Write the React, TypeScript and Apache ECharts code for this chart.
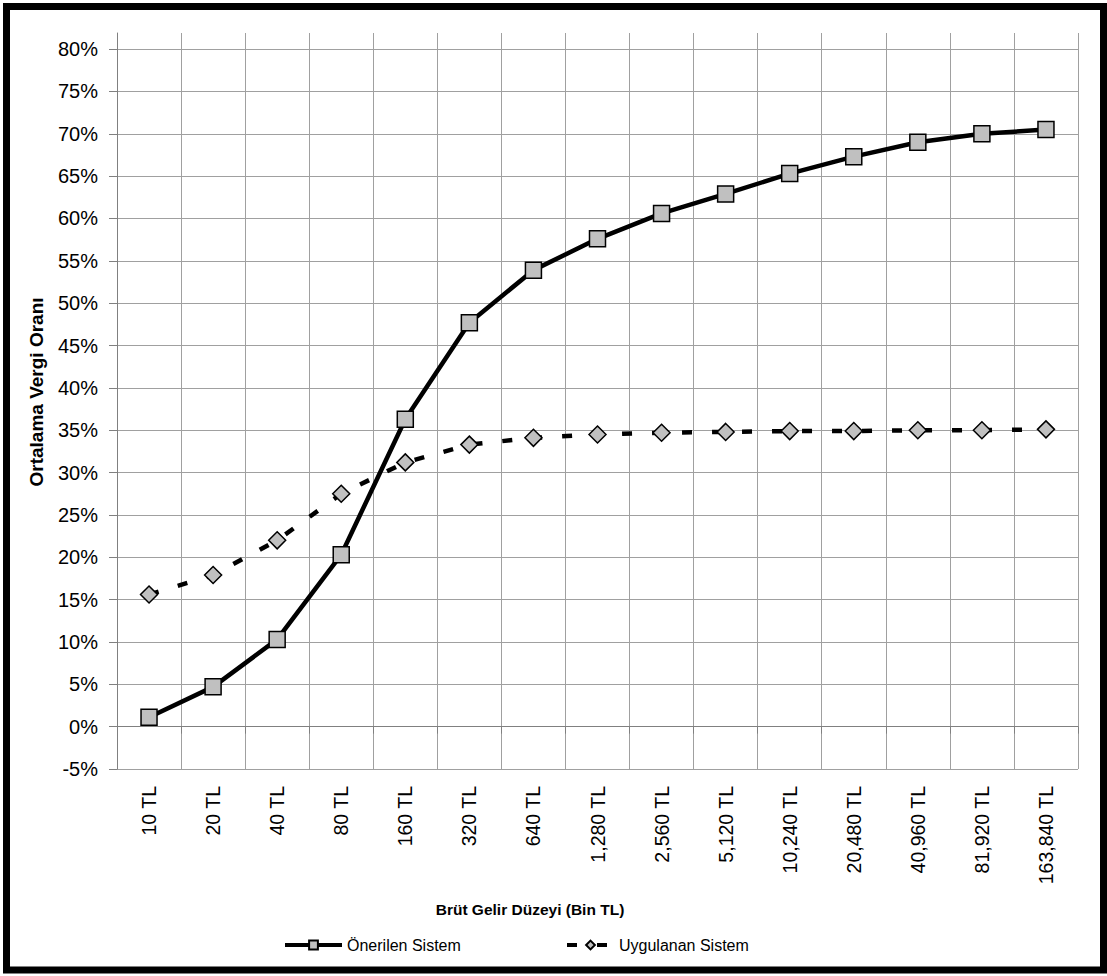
import React, { useEffect, useRef } from "react";
import * as echarts from "echarts";

const categories = [
  "10 TL", "20 TL", "40 TL", "80 TL", "160 TL", "320 TL", "640 TL", "1,280 TL",
  "2,560 TL", "5,120 TL", "10,240 TL", "20,480 TL", "40,960 TL", "81,920 TL", "163,840 TL",
];
const onerilen = [1.1, 4.7, 10.3, 20.3, 36.3, 47.7, 53.9, 57.6, 60.6, 62.9, 65.3, 67.3, 69.0, 70.0, 70.5];
const uygulanan = [15.6, 17.9, 22.0, 27.5, 31.2, 33.3, 34.1, 34.5, 34.7, 34.8, 34.9, 34.9, 35.0, 35.0, 35.1];
const yTicks = [-5, 0, 5, 10, 15, 20, 25, 30, 35, 40, 45, 50, 55, 60, 65, 70, 75, 80];

const seriesNames = ["Önerilen Sistem", "Uygulanan Sistem"];
const xTitle = "Brüt Gelir Düzeyi (Bin TL)";
const yTitle = "Ortalama Vergi Oranı";

const FONT = "'Liberation Sans', Arial, sans-serif";

export default function App() {
  const ref = useRef<HTMLDivElement>(null);
  useEffect(() => {
    if (!ref.current) return;
    const chart = echarts.init(ref.current, null, { renderer: "svg" });
    chart.setOption({
      animation: false,
      backgroundColor: "#fff",
      textStyle: { fontFamily: FONT, color: "#000" },
      grid: { left: 117, right: 29, top: 33, bottom: 207, containLabel: false },
      xAxis: {
        type: "category",
        data: categories,
        boundaryGap: true,
        axisLine: { lineStyle: { color: "#808080", width: 1 } },
        axisTick: { show: true, length: 7, lineStyle: { color: "#808080" } },
        axisLabel: { rotate: 90, margin: 17, fontSize: 19.5, color: "#000", fontFamily: FONT, interval: 0 },
        splitLine: { show: true, lineStyle: { color: "#a0a0a0", width: 1 } },
      },
      yAxis: {
        type: "value",
        min: -5,
        max: 81.9,
        interval: 5,
        axisLine: { show: true, lineStyle: { color: "#808080", width: 1 } },
        axisTick: { show: true, length: 8, inside: false, customValues: yTicks, lineStyle: { color: "#808080" } },
        axisLabel: {
          customValues: yTicks,
          margin: 19,
          fontSize: 20,
          color: "#000",
          fontFamily: FONT,
          formatter: (v: number) => `${v}%`,
        },
        splitLine: { show: true, lineStyle: { color: "#a0a0a0", width: 1 } },
      },
      legend: [
        {
          data: [seriesNames[0]],
          left: 278,
          top: 932,
          itemWidth: 57,
          itemHeight: 11,
          lineStyle: { width: 4 },
          textStyle: { fontSize: 16, color: "#000", fontFamily: FONT },
        },
        {
          data: [seriesNames[1]],
          left: 560,
          top: 932,
          itemWidth: 47,
          itemHeight: 11,
          lineStyle: { width: 4 },
          textStyle: { fontSize: 16, color: "#000", fontFamily: FONT },
        },
      ],
      graphic: [
        {
          type: "text",
          x: 530,
          y: 909,
          style: {
            text: xTitle,
            fontSize: 15.5,
            fontWeight: "bold",
            fontFamily: FONT,
            fill: "#000",
            align: "center",
            verticalAlign: "middle",
          },
        },
        {
          type: "text",
          x: 36,
          y: 392,
          rotation: Math.PI / 2,
          style: {
            text: yTitle,
            fontSize: 19,
            fontWeight: "bold",
            fontFamily: FONT,
            fill: "#000",
            align: "center",
            verticalAlign: "middle",
          },
        },
        {
          type: "rect",
          z: 100,
          shape: { x: 6.5, y: 6.5, width: 1097, height: 963.5 },
          style: { fill: "none", stroke: "#000", lineWidth: 7 },
        },
      ],
      series: [
        {
          name: seriesNames[1],
          type: "line",
          data: uygulanan,
          z: 2,
          symbol: "diamond",
          symbolSize: 17,
          itemStyle: { color: "#c0c0c0", borderColor: "#000", borderWidth: 1.5 },
          lineStyle: { color: "#000", width: 4.5, type: [10, 20], cap: "butt" },
        },
        {
          name: seriesNames[0],
          type: "line",
          data: onerilen,
          z: 3,
          symbol: "rect",
          symbolSize: 16,
          itemStyle: { color: "#c0c0c0", borderColor: "#000", borderWidth: 1.5 },
          lineStyle: { color: "#000", width: 4.5, type: "solid" },
        },
      ],
    });
    return () => chart.dispose();
  }, []);
  return (
    <div
      ref={ref}
      style={{ position: "fixed", left: 0, top: 0, width: 1107, height: 976, background: "#fff" }}
    />
  );
}
